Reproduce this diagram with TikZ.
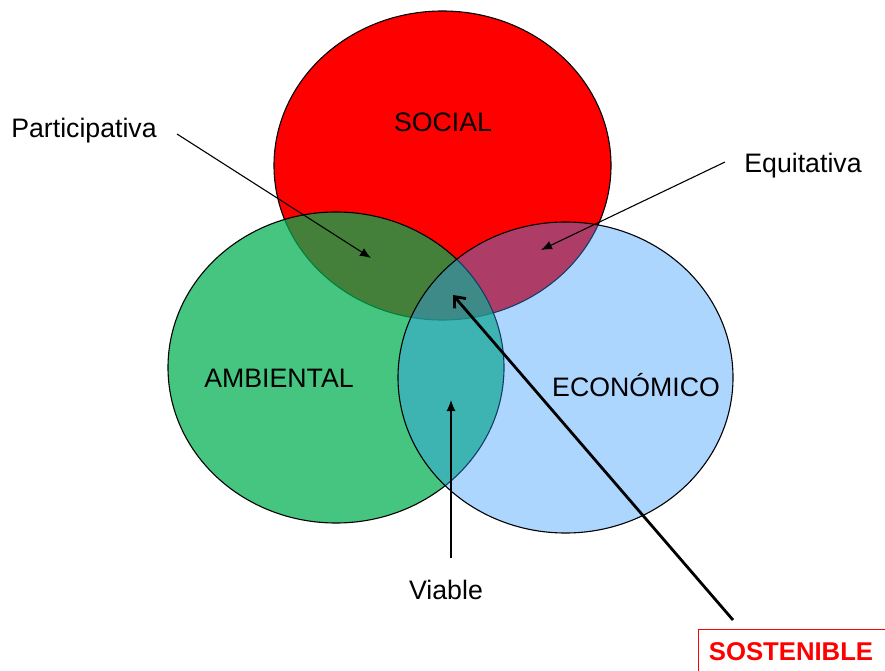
\documentclass[tikz,border=0pt]{standalone}
\usepackage{fontspec}
\setmainfont{Liberation Sans}
\usetikzlibrary{arrows.meta,shapes.geometric}
\definecolor{socialred}{RGB}{255,0,0}
\definecolor{ambgreen}{RGB}{0,176,80}
\definecolor{ecoblue}{RGB}{51,153,255}
\definecolor{sosred}{RGB}{255,0,0}
\begin{document}
\begin{tikzpicture}[x=1pt,y=-1pt,
  lbl/.style={font=\fontsize{26.7}{30}\selectfont, inner sep=0pt},
  circ/.style={ellipse, draw=black, line width=1.1pt, inner sep=0pt},
  thinarrow/.style={draw=black, line width=1.1pt, -{Latex[length=11pt,width=9pt]}},
  thickarrow/.style={draw=black, line width=2.8pt, -{Straight Barb[length=9pt,width=15pt,line width=2.8pt]}},
]
\useasboundingbox (0,0) rectangle (885,671);
% circles
\node[circ, fill=socialred, minimum width=337pt, minimum height=309pt] (social) at (442.5,165.5) {};
\node[circ, fill=ambgreen, fill opacity=0.73, minimum width=336pt, minimum height=311pt] (amb) at (336,367.5) {};
\node[circ, fill=ecoblue, fill opacity=0.4, minimum width=335pt, minimum height=311pt] (eco) at (565.5,377.5) {};
% circle labels
\node[lbl] (tsocial) at (443,122) {SOCIAL};
\node[lbl] (tamb) at (279,378) {AMBIENTAL};
\node[lbl] (teco) at (636,385) {ECONÓMICO};
% outer labels
\node[lbl] (part) at (84,131) {Participativa};
\node[lbl] (equi) at (803,166) {Equitativa};
\node[lbl] (viab) at (446,590) {Viable};
\node[lbl, font=\fontsize{25.7}{30}\selectfont\bfseries, text=sosred] (sos) at (791,652) {SOSTENIBLE};
\draw[sosred, line width=1pt] (698,629) -- (698,690) (698,629) -- (900,629);
% arrow coordinates
\coordinate (ps) at (177,134);
\coordinate (pt) at (371,258);
\coordinate (es) at (725,162);
\coordinate (et) at (541,250);
\coordinate (vs) at (451,558);
\coordinate (vt) at (451,400);
\coordinate (ss) at (733,620);
\coordinate (st) at (453,295);
\draw[thinarrow] (ps) -- (pt);
\draw[thinarrow] (es) -- (et);
\draw[thinarrow] (vs) -- (vt);
\draw[thickarrow] (ss) -- (st);
\end{tikzpicture}
\end{document}
